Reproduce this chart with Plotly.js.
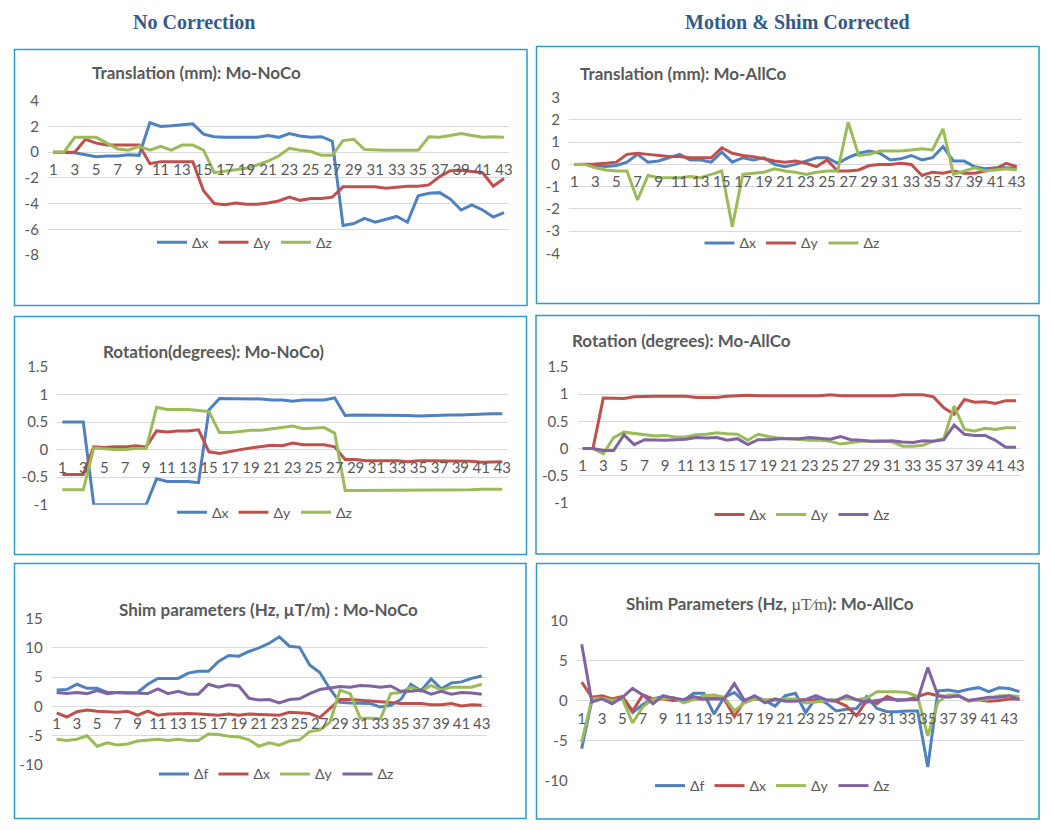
<!DOCTYPE html>
<html><head><meta charset="utf-8">
<script src="https://cdn.plot.ly/plotly-3.0.1.min.js"></script>
<style>html,body{margin:0;padding:0;background:#fff}#chart{width:1051px;height:830px}</style>
</head><body><div id="chart"></div>
<script>
// ---------- categories / ticks ----------
const frames43 = [1,2,3,4,5,6,7,8,9,10,11,12,13,14,15,16,17,18,19,20,21,22,23,24,25,26,27,28,29,30,31,32,33,34,35,36,37,38,39,40,41,42,43];
const frames44 = [1,2,3,4,5,6,7,8,9,10,11,12,13,14,15,16,17,18,19,20,21,22,23,24,25,26,27,28,29,30,31,32,33,34,35,36,37,38,39,40,41,42,43,44];
const xTickVals = [1,3,5,7,9,11,13,15,17,19,21,23,25,27,29,31,33,35,37,39,41,43];
const xTickText = ["1","3","5","7","9","11","13","15","17","19","21","23","25","27","29","31","33","35","37","39","41","43"];

const yTicksT1 = [4,2,0,-2,-4,-6,-8];          const yTextT1 = ["4","2","0","-2","-4","-6","-8"];
const yTicksT2 = [3,2,1,0,-1,-2,-3,-4];        const yTextT2 = ["3","2","1","0","-1","-2","-3","-4"];
const yTicksR  = [1.5,1,0.5,0,-0.5,-1];        const yTextR  = ["1.5","1","0.5","0","-0.5","-1"];
const yTicksS1 = [15,10,5,0,-5,-10];           const yTextS1 = ["15","10","5","0","-5","-10"];
const yTicksS2 = [10,5,0,-5,-10];              const yTextS2 = ["10","5","0","-5","-10"];

// ---------- Translation (mm): Mo-NoCo ----------
const t1_dx = [0,0,-0.05,-0.2,-0.35,-0.3,-0.3,-0.2,-0.25,2.3,2.0,2.05,2.15,2.2,1.4,1.2,1.15,1.15,1.2,1.15,1.3,1.15,1.45,1.25,1.15,1.2,0.85,-5.7,-5.55,-5.15,-5.45,-5.2,-5.0,-5.45,-3.4,-3.2,-3.15,-3.65,-4.5,-4.1,-4.5,-5.05,-4.7];
const t1_dy = [0,0,0,1.0,0.7,0.55,0.55,0.55,0.55,-0.9,-0.75,-0.75,-0.75,-0.75,-3.0,-4.0,-4.1,-3.95,-4.05,-4.05,-3.95,-3.8,-3.5,-3.75,-3.6,-3.6,-3.5,-2.7,-2.7,-2.7,-2.7,-2.8,-2.7,-2.65,-2.65,-2.55,-1.9,-1.45,-1.4,-1.5,-1.6,-2.65,-2.05];
const t1_dz = [0,0,1.15,1.15,1.15,0.7,0.25,0.15,0.45,0.15,0.45,0.15,0.55,0.55,0.15,-1.6,-1.5,-1.35,-1.25,-1.0,-0.7,-0.3,0.3,0.15,0.05,-0.25,-0.25,0.9,1.0,0.2,0.15,0.15,0.15,0.15,0.15,1.2,1.15,1.3,1.45,1.3,1.15,1.2,1.15];

// ---------- Translation (mm): Mo-AllCo ----------
const t2_dx = [0,0,-0.05,-0.1,-0.05,0.1,0.45,0.1,0.15,0.3,0.45,0.2,0.2,0.1,0.55,0.1,0.3,0.2,0.3,0.0,-0.1,0.0,0.15,0.3,0.3,0.05,0.3,0.5,0.6,0.5,0.2,0.25,0.4,0.2,0.3,0.8,0.15,0.15,-0.1,-0.2,-0.15,-0.15,-0.2];
const t2_dy = [0,0,0.02,0.05,0.1,0.45,0.5,0.45,0.4,0.35,0.35,0.3,0.3,0.3,0.75,0.5,0.4,0.35,0.25,0.15,0.1,0.15,0.05,-0.1,0.2,-0.3,-0.3,-0.25,-0.05,0.0,0.0,0.05,0.0,-0.5,-0.35,-0.4,-0.3,-0.4,-0.4,-0.3,-0.2,0.05,-0.1];
const t2_dz = [0,0,-0.15,-0.25,-0.3,-0.3,-1.6,-0.5,-0.6,-0.6,-0.6,-0.55,-0.6,-0.45,-0.3,-2.8,-0.45,-0.4,-0.35,-0.2,-0.3,-0.35,-0.45,-0.35,-0.3,-0.3,1.9,0.4,0.45,0.6,0.6,0.6,0.65,0.7,0.65,1.6,-0.45,-0.3,-0.15,-0.3,-0.25,-0.2,-0.25];

// ---------- Rotation (degrees): Mo-NoCo ----------
const r1_dx = [0.5,0.5,0.5,-1.0,-1.0,-1.0,-1.0,-0.99,-1.0,-0.53,-0.58,-0.58,-0.58,-0.6,0.72,0.93,0.93,0.93,0.92,0.92,0.9,0.9,0.88,0.9,0.9,0.9,0.94,0.62,0.63,0.63,0.63,0.63,0.63,0.62,0.61,0.62,0.63,0.63,0.63,0.64,0.65,0.65,0.65];
const r1_dy = [-0.45,-0.45,-0.45,0.05,0.04,0.05,0.05,0.07,0.05,0.34,0.32,0.34,0.34,0.36,-0.04,-0.07,-0.03,0.0,0.03,0.05,0.08,0.07,0.12,0.09,0.09,0.09,0.05,-0.18,-0.18,-0.2,-0.2,-0.2,-0.2,-0.22,-0.2,-0.2,-0.2,-0.2,-0.2,-0.21,-0.23,-0.22,-0.22];
const r1_dz = [-0.73,-0.73,-0.73,0.03,0.01,0.0,0.0,0.02,0.02,0.77,0.73,0.73,0.73,0.71,0.69,0.31,0.31,0.33,0.35,0.35,0.38,0.4,0.43,0.38,0.39,0.4,0.3,-0.74,-0.74,-0.74,-0.74,-0.73,-0.73,-0.74,-0.74,-0.74,-0.73,-0.73,-0.73,-0.73,-0.72,-0.72,-0.72];

// ---------- Rotation (degrees): Mo-AllCo ----------
const r2_dx = [0,0,0.93,0.92,0.92,0.95,0.96,0.96,0.96,0.96,0.96,0.94,0.94,0.94,0.96,0.97,0.98,0.97,0.97,0.97,0.97,0.97,0.97,0.97,0.99,0.97,0.97,0.97,0.97,0.97,0.97,0.99,0.99,0.99,0.95,0.75,0.63,0.9,0.85,0.86,0.83,0.88,0.88];
const r2_dy = [0,0,-0.1,0.2,0.3,0.28,0.26,0.23,0.24,0.21,0.21,0.25,0.26,0.29,0.27,0.26,0.15,0.26,0.22,0.19,0.18,0.16,0.15,0.15,0.13,0.08,0.11,0.13,0.13,0.14,0.12,0.04,0.04,0.06,0.14,0.18,0.78,0.35,0.32,0.37,0.35,0.38,0.38];
const r2_dz = [0,0,-0.04,-0.04,0.25,0.07,0.16,0.15,0.15,0.16,0.17,0.2,0.19,0.2,0.15,0.18,0.07,0.16,0.16,0.18,0.18,0.18,0.2,0.19,0.17,0.22,0.16,0.15,0.13,0.13,0.14,0.12,0.11,0.14,0.13,0.16,0.43,0.26,0.24,0.24,0.15,0.02,0.02];

// ---------- Shim parameters: Mo-NoCo ----------
const s1_df = [2.8,2.9,3.8,3.1,3.1,2.4,2.4,2.3,2.4,3.8,4.8,4.8,4.8,5.7,6.0,6.0,7.7,8.7,8.6,9.4,10.0,10.8,11.9,10.3,10.1,7.1,5.8,3.0,0.7,0.6,0.6,0.5,-0.1,0.2,1.2,3.8,2.7,4.7,3.0,4.0,4.2,4.8,5.2];
const s1_dx = [-1.1,-1.8,-0.9,-0.6,-0.8,-0.9,-1.0,-0.8,-1.5,-0.8,-1.5,-1.3,-1.2,-1.2,-1.3,-1.4,-1.5,-1.3,-1.5,-1.3,-1.4,-1.5,-1.5,-1.0,-1.1,-1.2,-1.9,-0.4,1.2,1.2,1.1,1.0,0.8,0.7,0.5,0.5,0.5,0.3,0.3,0.5,0.1,0.3,0.2];
const s1_dy = [-5.6,-5.8,-5.6,-5.0,-6.8,-6.2,-6.6,-6.4,-5.9,-5.8,-5.6,-5.8,-5.6,-5.8,-5.8,-4.7,-4.8,-5.1,-5.2,-5.7,-6.8,-6.2,-6.6,-5.9,-5.7,-4.3,-4.0,-2.7,2.8,2.2,-2.0,-2.0,-2.1,2.2,2.4,3.3,2.6,3.6,2.8,3.3,3.3,3.3,3.8];
const s1_dz = [2.4,2.2,2.4,2.2,2.7,2.2,2.4,2.3,2.3,2.2,3.0,2.2,2.6,2.1,2.1,3.8,3.3,3.7,3.5,1.4,1.1,1.2,0.6,1.2,1.3,2.2,2.9,3.1,3.4,3.3,3.6,3.5,3.3,3.5,2.6,2.6,2.8,2.1,2.6,2.1,2.4,2.3,2.1];

// ---------- Shim Parameters: Mo-AllCo ----------
const s2_df = [-6.0,0.0,0.4,0.0,0.4,-1.5,-0.5,0.2,0.5,0.2,0.0,0.9,0.9,-1.7,0.4,1.0,-0.2,0.2,0.0,-0.7,0.6,0.9,-1.5,0.3,-0.3,-1.3,-1.1,-1.0,0.5,-1.0,-1.4,-1.4,-1.3,-1.3,-8.3,1.2,1.3,1.1,1.4,1.6,1.1,1.6,1.5,1.1];
const s2_dx = [2.3,0.4,0.6,0.2,0.5,-1.3,0.7,0.2,0.2,0.0,0.1,0.2,0.2,0.3,0.2,-2.0,0.0,0.5,0.0,0.1,0.0,0.1,0.1,0.0,0.0,-0.1,-0.7,-1.9,0.0,-0.4,0.5,0.0,0.1,0.5,0.9,0.6,0.5,0.6,0.0,0.1,-0.1,0.0,0.2,0.2];
const s2_dy = [-5.2,0.2,0.3,0.0,0.2,-2.8,-0.8,0.2,0.2,0.4,-0.3,0.1,0.6,0.7,0.4,-1.3,-0.3,0.2,0.1,0.1,0.2,0.2,-0.3,-0.2,0.0,0.1,0.3,0.1,0.3,1.1,1.1,1.1,1.0,0.5,-4.4,-0.2,0.7,0.7,-0.1,0.1,0.2,0.6,0.6,0.5];
const s2_dz = [7.0,-0.2,0.2,-0.4,0.4,1.5,0.7,-0.4,0.6,0.3,0.1,0.5,0.2,0.2,0.2,2.1,0.0,0.6,-0.3,0.2,-0.1,-0.1,0.1,0.6,0.1,0.0,0.6,0.1,-0.2,0.0,0.2,0.1,0.1,0.1,4.1,0.6,0.4,0.6,0.0,0.2,0.4,0.4,0.6,0.1];

// ---------- styling ----------
const W = 1051, H = 830;
const BLUE = '#4F81BD', RED = '#C0504D', GREEN = '#9BBB59', PURPLE = '#8064A2';
const GRID = '#D9D9D9', TXT = '#595959', BORDER = '#2E9BC8';
const SANS = 'Lato, "Open Sans", sans-serif';

const panels = [
  {title:'Translation (mm): Mo-NoCo', tx:90, ty:73, box:[14.5,49.5,527,305.5], px:[47.9,509.4], py:[100.7,255], yr:[-8,4], yt:yTicksT1, ytt:yTextT1, n:43,
   series:[['Δx',t1_dx,BLUE],['Δy',t1_dy,RED],['Δz',t1_dz,GREEN]], leg:[157,242.7]},
  {title:'Translation (mm): Mo-AllCo', tx:578, ty:74, box:[536.5,46.5,1039,303.5], px:[569,1022], py:[97.7,253.3], yr:[-4,3], yt:yTicksT2, ytt:yTextT2, n:43,
   series:[['Δx',t2_dx,BLUE],['Δy',t2_dy,RED],['Δz',t2_dz,GREEN]], leg:[704.5,243.3]},
  {title:'Rotation(degrees): Mo-NoCo)', tx:101, ty:351, box:[14.5,316.5,526.5,554.5], px:[57.1,507.5], py:[367,504.7], yr:[-1,1.5], yt:yTicksR, ytt:yTextR, n:43,
   series:[['Δx',r1_dx,BLUE],['Δy',r1_dy,RED],['Δz',r1_dz,GREEN]], leg:[177,512.7]},
  {title:'Rotation (degrees): Mo-AllCo', tx:570, ty:340, box:[536,315.5,1039,554], px:[577.5,1021.2], py:[367,502.7], yr:[-1,1.5], yt:yTicksR, ytt:yTextR, n:43,
   series:[['Δx',r2_dx,RED],['Δy',r2_dy,GREEN],['Δz',r2_dz,PURPLE]], leg:[714.5,515]},
  {title:'Shim parameters (Hz, µT/m) : Mo-NoCo', tx:117, ty:609, box:[14.5,563.5,526,818.5], px:[51.6,486.8], py:[618.7,765], yr:[-10,15], yt:yTicksS1, ytt:yTextS1, n:43,
   series:[['Δf',s1_df,BLUE],['Δx',s1_dx,RED],['Δy',s1_dy,GREEN],['Δz',s1_dz,PURPLE]], leg:[159,774.3]},
  {title:'Shim Parameters (Hz, <span style="font-family:\'Liberation Serif\',serif;font-weight:normal">µT∕m</span>): Mo-AllCo', tx:624, ty:603, box:[536.5,563.5,1039,819], px:[576.6,1024.5], py:[620.3,780.7], yr:[-10,10], yt:yTicksS2, ytt:yTextS2, n:44,
   series:[['Δf',s2_df,BLUE],['Δx',s2_dx,RED],['Δy',s2_dy,GREEN],['Δz',s2_dz,PURPLE]], leg:[655,786]}
];

const data = [];
const layout = {
  width: W, height: H, margin:{l:0,r:0,t:0,b:0},
  paper_bgcolor:'#fff', plot_bgcolor:'rgba(0,0,0,0)',
  font:{family:SANS, color:TXT, size:15},
  shapes:[], annotations:[]
};

panels.forEach((p, i) => {
  const k = i === 0 ? '' : String(i+1);
  const xa = 'x'+k, ya = 'y'+k, lg = 'legend'+k;
  const frames = p.n === 44 ? frames44 : frames43;
  const yb = 1 - p.py[1]/H, yt = 1 - p.py[0]/H;
  const zeroPos = yb + (0 - p.yr[0])/(p.yr[1]-p.yr[0])*(yt - yb);
  layout['xaxis'+k] = {
    domain:[p.px[0]/W, p.px[1]/W], range:[0.5, p.n+0.5], anchor:'free', position: zeroPos,
    tickmode:'array', tickvals:xTickVals, ticktext:xTickText, ticks:'', showgrid:false,
    zeroline:false, showline:false, tickfont:{family:SANS, size:15, color:TXT}, ticklabelstandoff:7, fixedrange:true
  };
  layout['yaxis'+k] = {
    domain:[yb, yt], range:p.yr, anchor:xa, tickmode:'array', tickvals:p.yt, ticktext:p.ytt,
    ticks:'', showgrid:true, gridcolor:GRID, gridwidth:1, zeroline:true, zerolinecolor:GRID, zerolinewidth:1,
    showline:false, tickfont:{family:SANS, size:15, color:TXT}, ticklabelstandoff:8, fixedrange:true
  };
  layout[lg] = {
    orientation:'h', x:(p.leg[0]-5)/W, y:1 - p.leg[1]/H, xanchor:'left', yanchor:'middle',
    bgcolor:'rgba(0,0,0,0)', font:{family:SANS, size:14, color:TXT}, itemwidth:30, traceorder:'normal'
  };
  p.series.forEach(s => {
    data.push({type:'scatter', mode:'lines', x:frames, y:s[1], name:s[0], xaxis:xa, yaxis:ya, legend:lg,
               line:{color:s[2], width:3}, hoverinfo:'skip'});
  });
  layout.shapes.push({type:'rect', xref:'paper', yref:'paper', x0:p.box[0]/W, x1:p.box[2]/W, y0:1-p.box[3]/H, y1:1-p.box[1]/H,
                      line:{color:BORDER, width:1.5}, fillcolor:'rgba(0,0,0,0)', layer:'below'});
  layout.annotations.push({text:p.title, xref:'paper', yref:'paper', x:p.tx/W, y:1-p.ty/H, xanchor:'left', yanchor:'middle',
                           showarrow:false, font:{family:SANS, size:17, color:TXT, weight:'bold'}});
});

layout.annotations.push({text:'No Correction', xref:'paper', yref:'paper', x:193.5/W, y:1-22/H, xanchor:'center', yanchor:'middle',
  showarrow:false, font:{family:'"Liberation Serif", "Times New Roman", serif', size:20, color:'#345A8A', weight:'bold'}});
layout.annotations.push({text:'Motion &amp; Shim Corrected', xref:'paper', yref:'paper', x:797.5/W, y:1-22/H, xanchor:'center', yanchor:'middle',
  showarrow:false, font:{family:'"Liberation Serif", "Times New Roman", serif', size:20, color:'#345A8A', weight:'bold'}});

Plotly.newPlot('chart', data, layout, {staticPlot:true, displayModeBar:false});
</script>
</body></html>
